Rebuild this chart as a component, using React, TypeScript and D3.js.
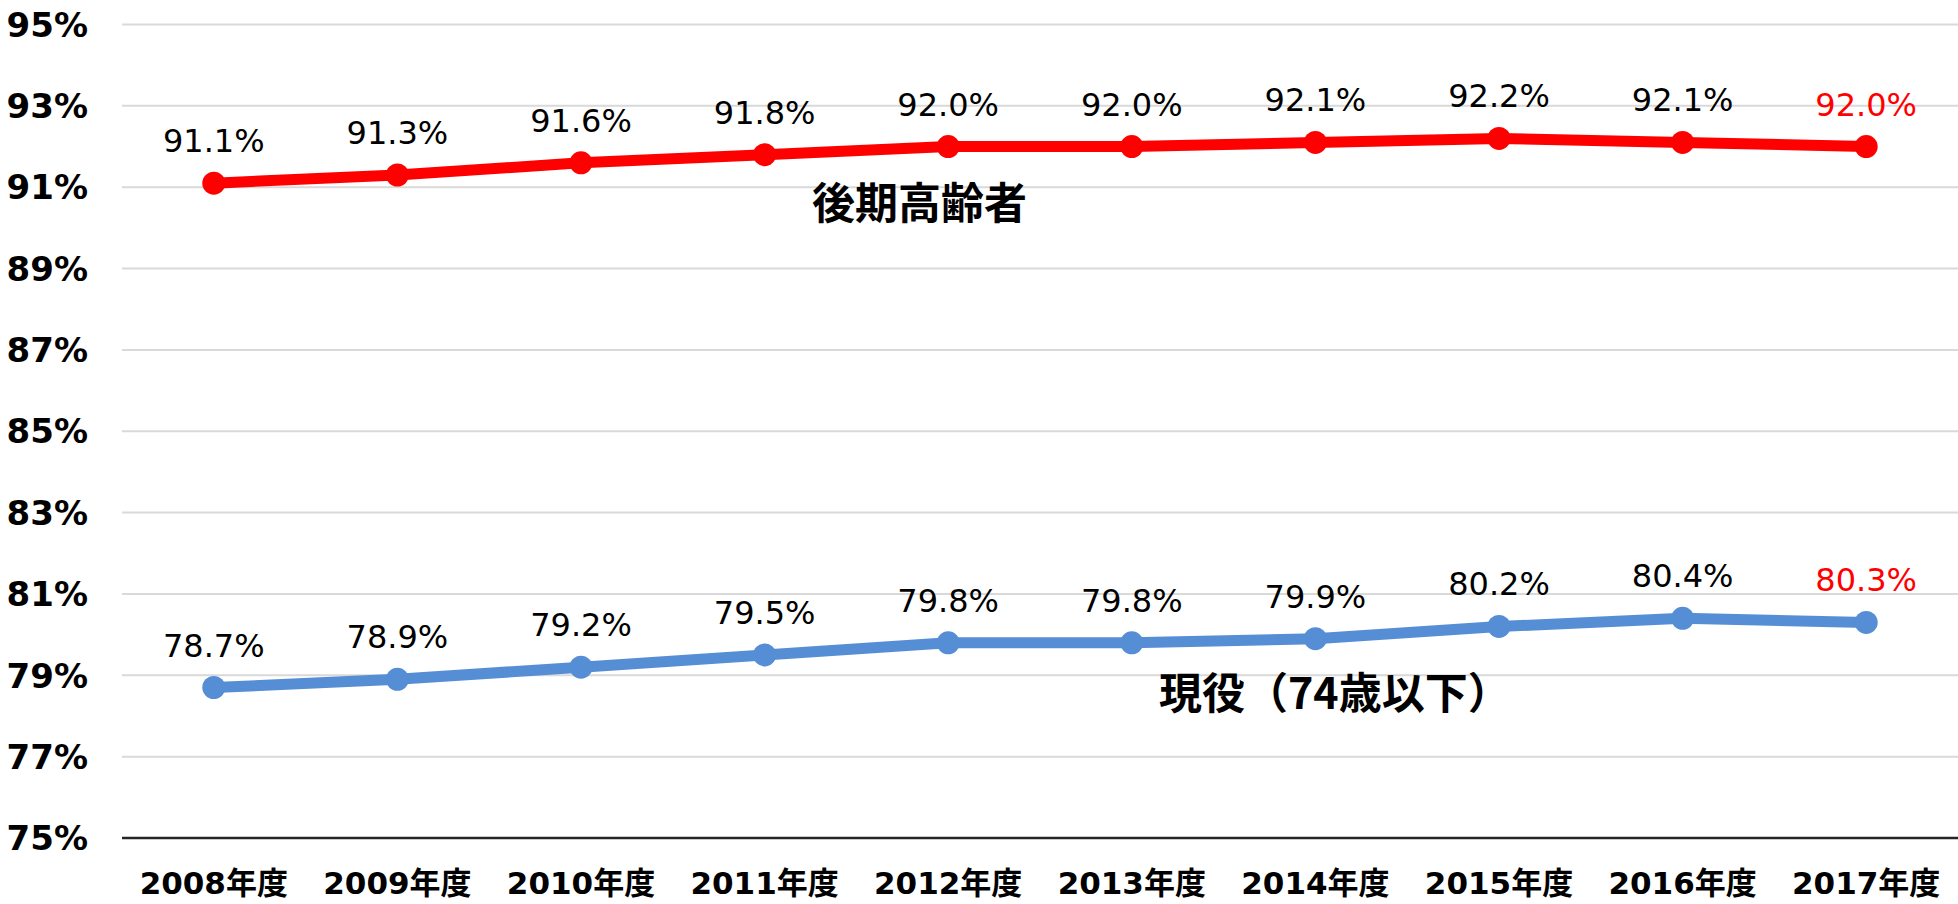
import React from "react";
import * as d3 from "d3";

const categories = ["2008年度","2009年度","2010年度","2011年度","2012年度","2013年度","2014年度","2015年度","2016年度","2017年度"];
const elderly = [91.1, 91.3, 91.6, 91.8, 92.0, 92.0, 92.1, 92.2, 92.1, 92.0];
const working = [78.7, 78.9, 79.2, 79.5, 79.8, 79.8, 79.9, 80.2, 80.4, 80.3];
const yTicks = [75, 77, 79, 81, 83, 85, 87, 89, 91, 93, 95];

const W = 1958, H = 904;
const M = { left: 122, right: 0, top: 24.5, bottom: 66 };
const FONT = "'DejaVu Sans', Verdana, 'Noto Sans CJK JP', sans-serif";

export default function App() {
  const x = d3.scaleBand<string>().domain(categories).range([M.left, W - M.right]).paddingInner(0).paddingOuter(0);
  const y = d3.scaleLinear().domain([75, 95]).range([H - M.bottom, M.top]);
  const cx = (c: string) => (x(c) as number) + x.bandwidth() / 2;
  const line = d3.line<number>().x((_, i) => cx(categories[i])).y((v) => y(v));

  const series = [
    { name: "後期高齢者", values: elderly, color: "#FF0000", labelX: 812, labelY: 219 },
    { name: "現役（74歳以下）", values: working, color: "#558ED5", labelX: 1159, labelY: 709 },
  ];

  return (
    <div style={{ position: "absolute", left: 0, top: 0 }}>
      <svg width={W} height={H} style={{ display: "block", background: "#fff" }} fontFamily={FONT}>
        {yTicks.map((t) => (
          <g key={t}>
            {t !== 75 && (
              <line x1={M.left} x2={W - M.right} y1={y(t)} y2={y(t)} stroke="#D9D9D9" strokeWidth={2} />
            )}
            <text x={88} y={y(t)} dy="0.36em" textAnchor="end" fontSize={34} fontWeight="bold" fill="#000">
              {t}%
            </text>
          </g>
        ))}
        <line x1={M.left} x2={W - M.right} y1={y(75)} y2={y(75)} stroke="#262626" strokeWidth={2.5} />
        {categories.map((c) => (
          <text key={c} x={cx(c)} y={894} textAnchor="middle" fontSize={31} fontWeight="bold" fill="#000">
            {c}
          </text>
        ))}
        {series.map((s) => (
          <g key={s.name}>
            <path d={line(s.values) as string} fill="none" stroke={s.color} strokeWidth={11} strokeLinejoin="round" />
            {s.values.map((v, i) => (
              <circle key={i} cx={cx(categories[i])} cy={y(v)} r={11.5} fill={s.color} />
            ))}
            {s.values.map((v, i) => (
              <text
                key={"l" + i}
                x={cx(categories[i])}
                y={y(v) - 31}
                textAnchor="middle"
                fontSize={32}
                fill={i === s.values.length - 1 ? "#FF0000" : "#000"}
              >
                {v.toFixed(1)}%
              </text>
            ))}
            <text x={s.labelX} y={s.labelY} fontSize={43} fontWeight="bold" fill="#000"
              fontFamily="'Noto Sans CJK JP', sans-serif">
              {s.name}
            </text>
          </g>
        ))}
      </svg>
    </div>
  );
}
